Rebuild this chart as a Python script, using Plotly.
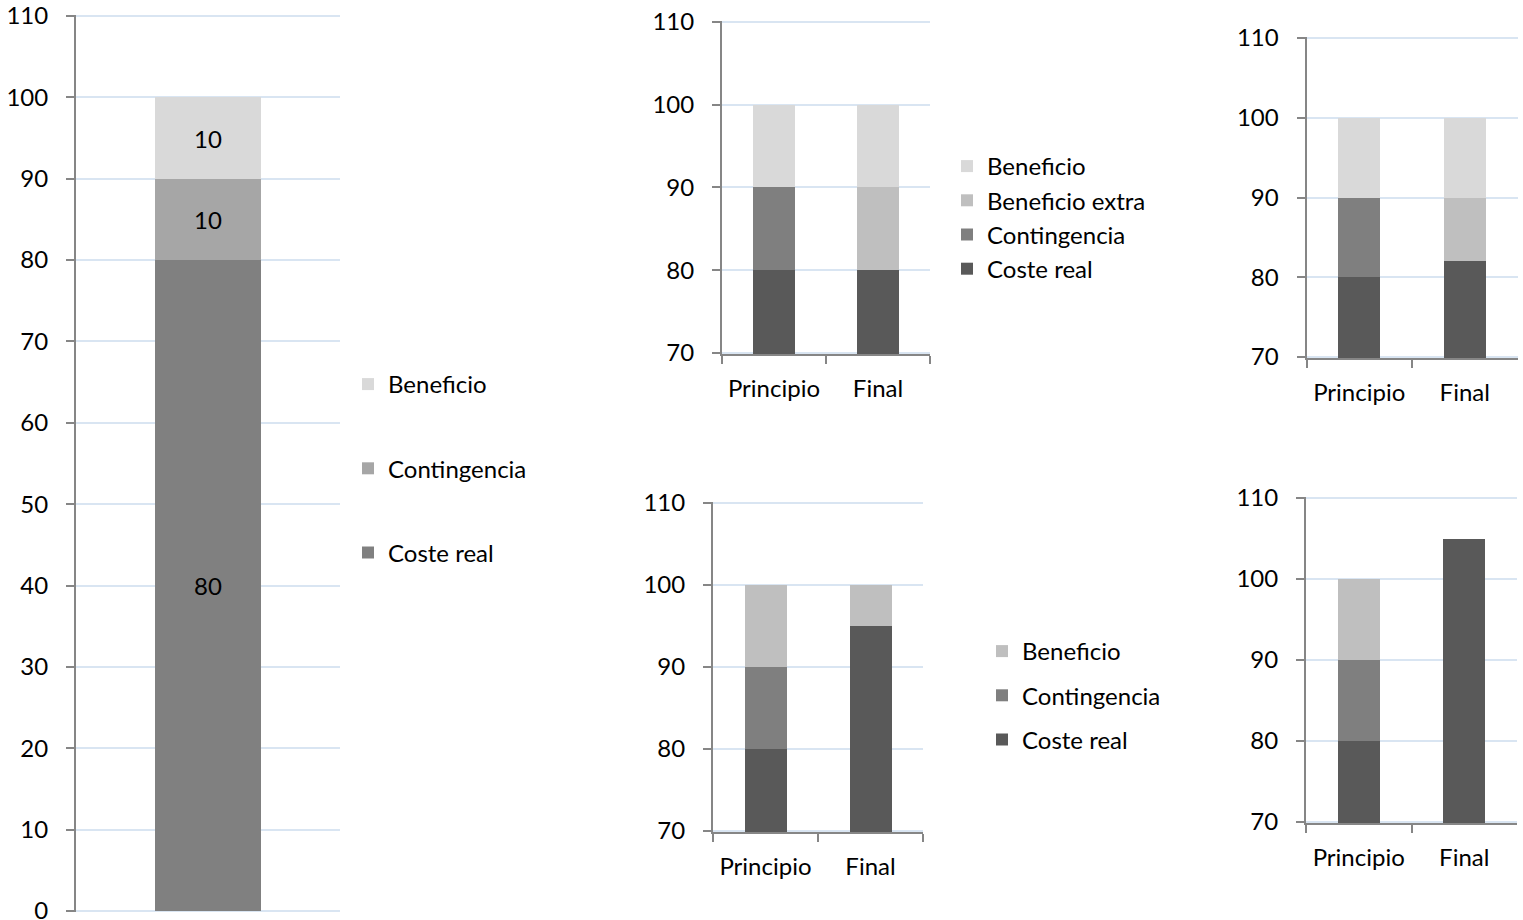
import plotly.graph_objects as go

W, H = 1523, 920
FONT = "Lato"
FS = 24

# ---------------- data ----------------
# Chart 1 (single bar)
cat1 = ["Total"]
c1_coste = [80]
c1_cont = [10]
c1_benef = [10]

# Chart 2 (top middle)
cats = ["Principio", "Final"]
c2_coste = [80, 80]
c2_cont = [10, 0]
c2_bextra = [0, 10]
c2_benef = [10, 10]

# Chart 3 (top right)
c3_coste = [80, 82]
c3_cont = [10, 0]
c3_bextra = [0, 8]
c3_benef = [10, 10]

# Chart 4 (bottom middle)
c4_coste = [80, 95]
c4_cont = [10, 0]
c4_benef = [10, 5]

# Chart 5 (bottom right)
c5_coste = [80, 105]
c5_cont = [10, 0]
c5_benef = [10, 0]

y_ticks_full = [0, 10, 20, 30, 40, 50, 60, 70, 80, 90, 100, 110]
y_ticks_zoom = [70, 80, 90, 100, 110]

# colours
G_BENEF_LIGHT = "#d9d9d9"
G_BEXTRA = "#bfbfbf"
G_CONT = "#7f7f7f"
G_COSTE = "#595959"
C1_CONT = "#a6a6a6"
C1_COSTE = "#808080"
GRID = "#d9e5f2"
AXIS = "#868686"

fig = go.Figure()


def bar(x, y, name, color, xa, ya, legend=None, show=True, text=False,
        group=None, rank=1000):
    kw = {}
    if text:
        kw = dict(text=y, texttemplate="%{y}", textposition="inside",
                  insidetextanchor="middle", textangle=0,
                  textfont=dict(color="black", size=FS, family=FONT))
    fig.add_trace(go.Bar(
        x=x, y=y, name=name, marker=dict(color=color, line=dict(width=0)),
        xaxis=xa, yaxis=ya, showlegend=show, legend=legend,
        legendgroup=group, legendrank=rank, hoverinfo="skip", **kw))


# Chart 1
bar(cat1, c1_coste, "Coste real", C1_COSTE, "x", "y", "legend", True, True, "a", 3)
bar(cat1, c1_cont, "Contingencia", C1_CONT, "x", "y", "legend", True, True, "b", 2)
bar(cat1, c1_benef, "Beneficio", G_BENEF_LIGHT, "x", "y", "legend", True, True, "c", 1)

# Chart 2
bar(cats, c2_coste, "Coste real", G_COSTE, "x2", "y2", "legend2", rank=4)
bar(cats, c2_cont, "Contingencia", G_CONT, "x2", "y2", "legend2", rank=3)
bar(cats, c2_bextra, "Beneficio extra", G_BEXTRA, "x2", "y2", "legend2", rank=2)
bar(cats, c2_benef, "Beneficio", G_BENEF_LIGHT, "x2", "y2", "legend2", rank=1)

# Chart 3
bar(cats, c3_coste, "Coste real", G_COSTE, "x3", "y3", show=False)
bar(cats, c3_cont, "Contingencia", G_CONT, "x3", "y3", show=False)
bar(cats, c3_bextra, "Beneficio extra", G_BEXTRA, "x3", "y3", show=False)
bar(cats, c3_benef, "Beneficio", G_BENEF_LIGHT, "x3", "y3", show=False)

# Chart 4
bar(cats, c4_coste, "Coste real", G_COSTE, "x4", "y4", "legend3", True, False, "a4", 3)
bar(cats, c4_cont, "Contingencia", G_CONT, "x4", "y4", "legend3", True, False, "b4", 2)
bar(cats, c4_benef, "Beneficio", G_BEXTRA, "x4", "y4", "legend3", True, False, "c4", 1)

# Chart 5
bar(cats, c5_coste, "Coste real", G_COSTE, "x5", "y5", show=False)
bar(cats, c5_cont, "Contingencia", G_CONT, "x5", "y5", show=False)
bar(cats, c5_benef, "Beneficio", G_BEXTRA, "x5", "y5", show=False)


def fx(px):
    return px / W


def fy(py):
    return 1 - py / H


def px_dom_x(a, b):
    return [fx(a), fx(b)]


PAD = 0.15  # small range padding so edge gridlines get drawn


tickfont = dict(family=FONT, size=FS, color="black")


def yaxis(top_px, bot_px, lo, hi, ticks, anchor):
    ppu = (bot_px - top_px) / (hi - lo)
    dom = [fy(bot_px + PAD * ppu), fy(top_px - PAD * ppu)]
    return dict(domain=dom, range=[lo - PAD, hi + PAD], tickvals=ticks,
                showgrid=True, gridcolor=GRID, gridwidth=2, zeroline=False,
                showline=True, linecolor=AXIS, linewidth=2, ticks="outside",
                ticklen=8, tickcolor=AXIS, tickwidth=2, tickfont=tickfont,
                anchor=anchor, ticklabelstandoff=13, ticklabeloverflow="allow",
                fixedrange=True, automargin=False)


def xaxis(dom, anchor, show=True):
    return dict(domain=dom, anchor=anchor, showgrid=False, zeroline=False,
                showline=show, linecolor=AXIS, linewidth=2,
                ticks="outside" if show else "", tickson="boundaries", ticklen=8,
                tickcolor=AXIS, tickwidth=2, tickfont=tickfont,
                showticklabels=show, ticklabelstandoff=12,
                ticklabeloverflow="allow", fixedrange=True, automargin=False)


legfont = dict(family=FONT, size=FS, color="black")

fig.update_layout(
    width=W, height=H, margin=dict(l=0, r=0, t=0, b=0, autoexpand=False),
    template="none",
    plot_bgcolor="white", paper_bgcolor="white",
    barmode="stack", bargap=0.6,
    font=dict(family=FONT, size=FS, color="black"),
    xaxis=xaxis(px_dom_x(76, 340), "y", show=False),
    yaxis=yaxis(16, 911, 0, 110, y_ticks_full, "x"),
    xaxis2=xaxis(px_dom_x(722, 930), "y2"),
    yaxis2=yaxis(22, 353, 70, 110, y_ticks_zoom, "x2"),
    xaxis3=xaxis(px_dom_x(1306.5, 1517.5), "y3"),
    yaxis3=yaxis(38, 357, 70, 110, y_ticks_zoom, "x3"),
    xaxis4=xaxis(px_dom_x(713, 923), "y4"),
    yaxis4=yaxis(503, 831, 70, 110, y_ticks_zoom, "x4"),
    xaxis5=xaxis(px_dom_x(1306, 1517), "y5"),
    yaxis5=yaxis(498, 822, 70, 110, y_ticks_zoom, "x5"),
    legend=dict(x=fx(348), y=fy(362), xanchor="left", yanchor="top",
                traceorder="grouped", tracegroupgap=50,
                font=legfont, bgcolor="rgba(0,0,0,0)"),
    legend2=dict(x=fx(947), y=fy(144), xanchor="left", yanchor="top",
                 traceorder="normal", font=legfont, bgcolor="rgba(0,0,0,0)"),
    legend3=dict(x=fx(982), y=fy(629), xanchor="left", yanchor="top",
                 traceorder="grouped", tracegroupgap=10,
                 font=legfont, bgcolor="rgba(0,0,0,0)"),
)

fig.write_html(
    "out.html",
    config={"displayModeBar": False, "staticPlot": True},
    post_script="document.body.style.margin='0px';"
                "document.body.style.overflow='hidden';",
)
